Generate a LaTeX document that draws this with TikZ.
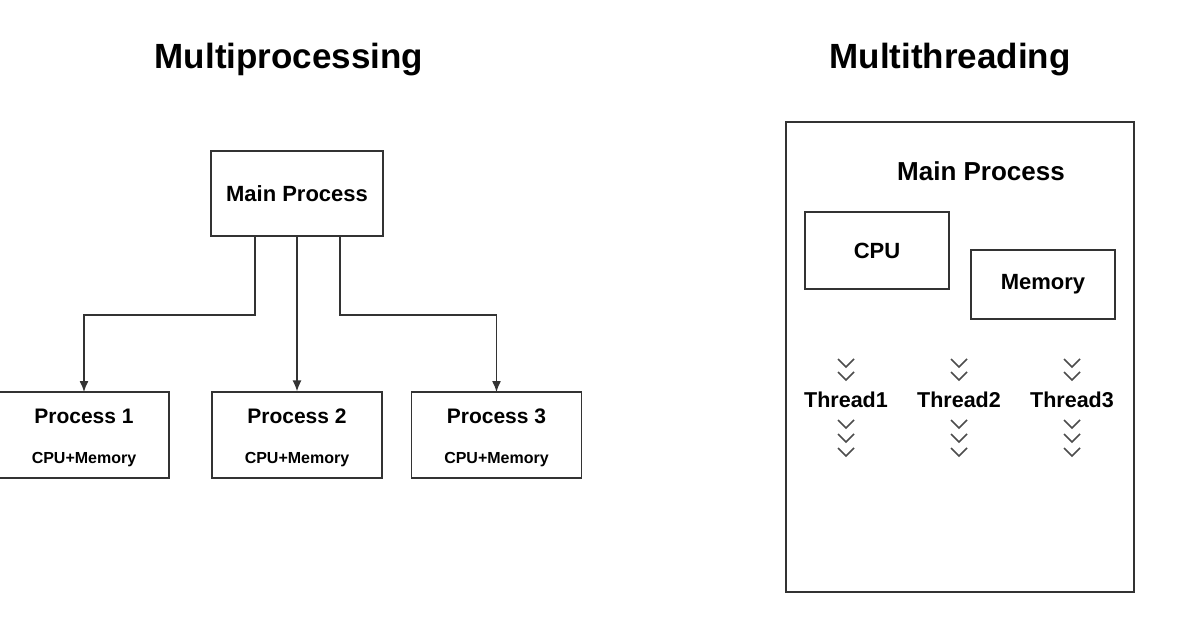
\documentclass[tikz,border=0pt]{standalone}
\usepackage{fontspec}
\setmainfont{Liberation Sans}
\usetikzlibrary{arrows.meta}
\begin{document}
\begin{tikzpicture}[x=1pt,y=-1pt,
  box/.style={draw=black!80,line width=1.3pt,inner sep=0pt},
  lbl/.style={font=\bfseries\fontsize{22}{26}\selectfont},
  small/.style={font=\bfseries\fontsize{16}{19}\selectfont},
  ttl/.style={font=\bfseries\fontsize{35}{42}\selectfont},
  conn/.style={draw=black!80,line width=1.3pt,-{Latex[length=11pt,width=9pt]}},
  chev/.style={draw=black!70,line width=1.6pt}]
\useasboundingbox (0,0) rectangle (1197,628);
\node[ttl] (t1) at (289,60) {Multiprocessing};
\node[ttl] (t2) at (950,60) {Multithreading};
\node[box,minimum width=172pt,minimum height=85pt,lbl] (mp) at (297,193.5) {Main Process};
\foreach \n/\x in {1/84,2/297,3/496.5}{
  \node[box,minimum width=170pt,minimum height=86pt] (p\n) at (\x,435) {};
  \node[lbl,font=\bfseries\fontsize{21}{25}\selectfont] (pl\n) at (\x,416) {Process \n};
  \node[small] (pc\n) at (\x,460) {CPU+Memory};
}
\coordinate (a1) at (255,236); \coordinate (a3) at (340,236);
\draw[conn] (a1) -- (255,315) -| (84,392);
\draw[conn] (mp.south) -- (p2.north);
\draw[conn] (a3) -- (340,315) -| (496.5,392);
\node[box,minimum width=348pt,minimum height=470pt] (big) at (960,357) {};
\node[lbl,font=\bfseries\fontsize{26}{30}\selectfont] (bmp) at (981,171) {Main Process};
\node[box,minimum width=144pt,minimum height=77pt,lbl] (cpu) at (877,250.5) {CPU};
\node[box,minimum width=144pt,minimum height=69pt,lbl] (mem) at (1043,284.5) {Memory};
\foreach \n/\x in {1/846,2/959,3/1072}{
  \node[lbl,font=\bfseries\fontsize{21.5}{25}\selectfont] (th\n) at (\x,400) {Thread\n};
  \foreach \y in {359,372,420,434,448}{
    \draw[chev] (\x-8,\y) -- (\x,\y+8) -- (\x+8,\y);
  }
}
\end{tikzpicture}
\end{document}
